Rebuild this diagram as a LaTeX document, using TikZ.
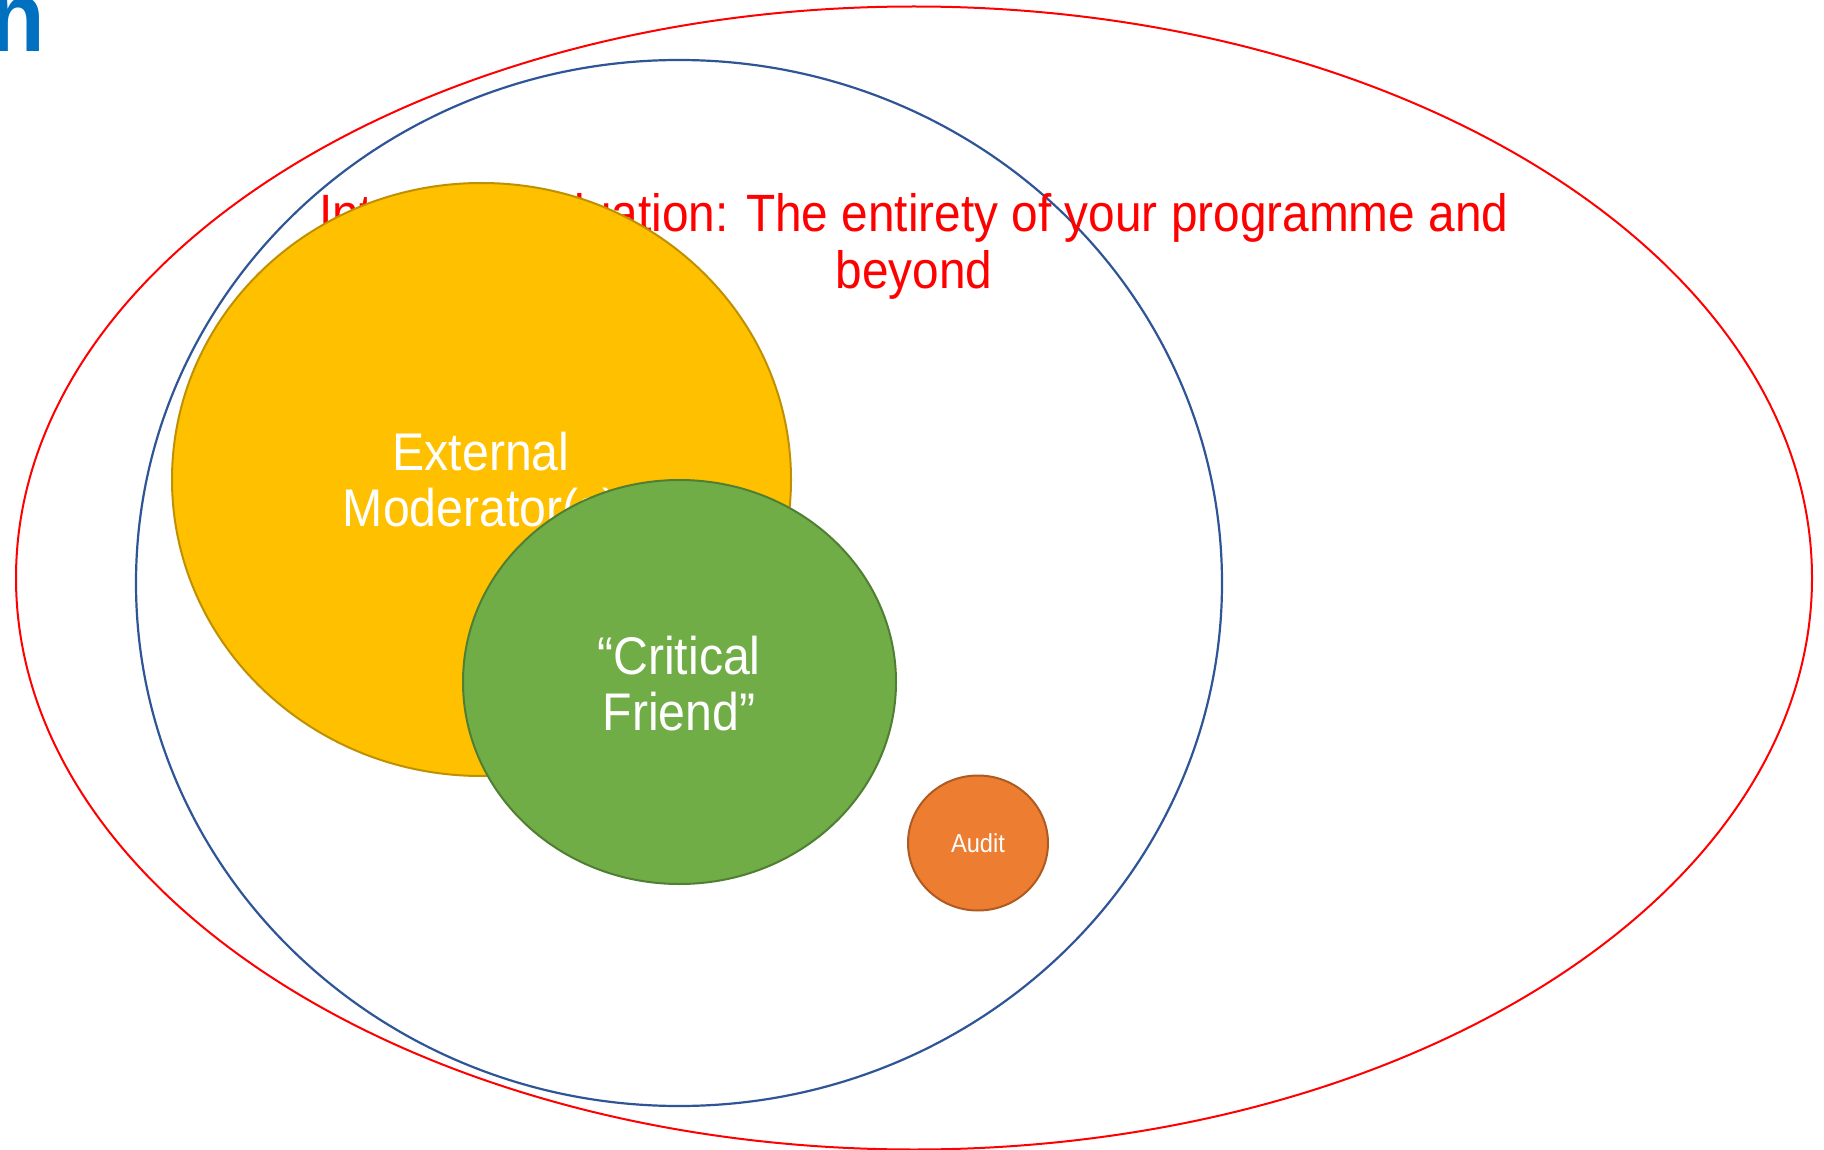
\documentclass[tikz,border=0pt]{standalone}
\usepackage{fontspec}
\setmainfont{Liberation Sans}
\newfontfamily\narrowsans[FakeStretch=0.91]{Liberation Sans}
\usetikzlibrary{shapes.geometric}

\definecolor{evalred}{HTML}{FF0000}
\definecolor{ringblue}{HTML}{2F5597}
\definecolor{modfill}{HTML}{FFC000}
\definecolor{moddraw}{HTML}{BF9000}
\definecolor{friendfill}{HTML}{70AD47}
\definecolor{frienddraw}{HTML}{507E32}
\definecolor{auditfill}{HTML}{ED7D31}
\definecolor{auditdraw}{HTML}{AE5A21}
\definecolor{headblue}{HTML}{0070C0}

\tikzset{
  zone/.style={ellipse, inner sep=0pt, outer sep=0pt},
  bubbletext/.style={text=white, align=center, inner sep=0pt,
    font=\narrowsans\fontsize{53}{56}\selectfont},
}

\begin{document}
\begin{tikzpicture}[x=1pt, y=-1pt]
  \useasboundingbox (0,0) rectangle (1824,1150);
  \fill[white] (0,0) rectangle (1824,1150);

  % heading fragment at the top-left edge
  \node[anchor=base east, inner sep=0pt, text=headblue,
        font=\narrowsans\bfseries\fontsize{100}{100}\selectfont] (head) at (45,52) {n};

  % outer and inner evaluation rings
  \node[zone, draw=evalred, line width=2pt,
        minimum width=1796pt, minimum height=1143pt] (internal) at (914,578) {};
  \node[zone, draw=ringblue, line width=2.2pt,
        minimum width=1086pt, minimum height=1046pt] (programme) at (679,583) {};

  % multi-line labels are placed by the baseline of their last line
  \node[anchor=base, align=center, inner sep=0pt, text=evalred,
        font=\narrowsans\fontsize{52.5}{57}\selectfont] (scope) at (914,289)
        {Internal Evaluation: The entirety of your programme and\\beyond};

  % external moderator
  \node[zone, fill=modfill, draw=moddraw, line width=2pt,
        minimum width=619pt, minimum height=593pt] (moderator) at (481.5,479.5) {};
  \node[bubbletext, anchor=base] (modlabel) at (481,526) {External\\Moderator(s)};

  % critical friend
  \node[zone, fill=friendfill, draw=frienddraw, line width=2pt,
        minimum width=433pt, minimum height=404pt] (friend) at (679.5,682) {};
  \node[bubbletext, anchor=base] (friendlabel) at (679,730) {“Critical\\Friend”};

  % audit
  \node[zone, fill=auditfill, draw=auditdraw, line width=2pt,
        minimum width=140pt, minimum height=135pt] (audit) at (978,843) {};
  \node[anchor=base, inner sep=0pt, text=white,
        font=\narrowsans\fontsize{26}{30}\selectfont] (auditlabel) at (978,852) {Audit};
\end{tikzpicture}
\end{document}
